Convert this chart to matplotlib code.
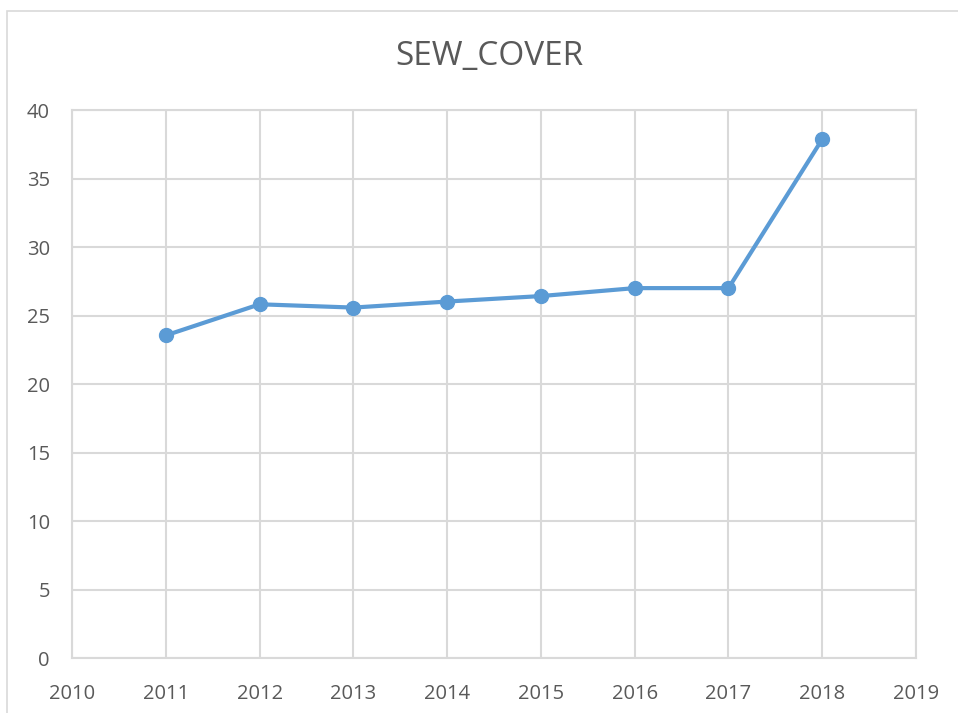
import matplotlib.pyplot as plt
from matplotlib.patches import Rectangle

# data
years = [2011, 2012, 2013, 2014, 2015, 2016, 2017, 2018]
sew_cover = [23.55, 25.82, 25.58, 26.02, 26.42, 27.0, 27.0, 37.87]
x_ticks = list(range(2010, 2020))
y_ticks = list(range(0, 45, 5))

plt.rcParams['font.family'] = ['Open Sans', 'DejaVu Sans']
text_col = '#595959'
grid_col = '#d9d9d9'

fig = plt.figure(figsize=(9.58, 7.13), dpi=100)
ax = fig.add_axes([0.0752, 0.0771, 0.8810, 0.7686])

# outer chart border (as in the spreadsheet export)
fig.patches.append(Rectangle((7 / 958, -0.05), 1.1, 1 - 11 / 713 + 0.05,
                             transform=fig.transFigure, fill=False,
                             edgecolor='#d9d9d9', linewidth=1.2))

ax.plot(years, sew_cover, color='#5b9bd5', linewidth=3, marker='o',
        markersize=10, zorder=3)

ax.set_xlim(2010, 2019)
ax.set_ylim(0, 40)
ax.set_xticks(x_ticks)
ax.set_yticks(y_ticks)
ax.grid(True, color=grid_col, linewidth=1.5)
ax.tick_params(length=0, labelsize=14.5, labelcolor=text_col, pad=16)
ax.tick_params(axis='x', pad=19)
for s in ax.spines.values():
    s.set_color(grid_col)
    s.set_linewidth(1.5)

fig.text(0.511, 0.921, 'SEW_COVER', ha='center', va='center',
         fontsize=24, color=text_col)

fig.savefig('out.png', dpi=100)
